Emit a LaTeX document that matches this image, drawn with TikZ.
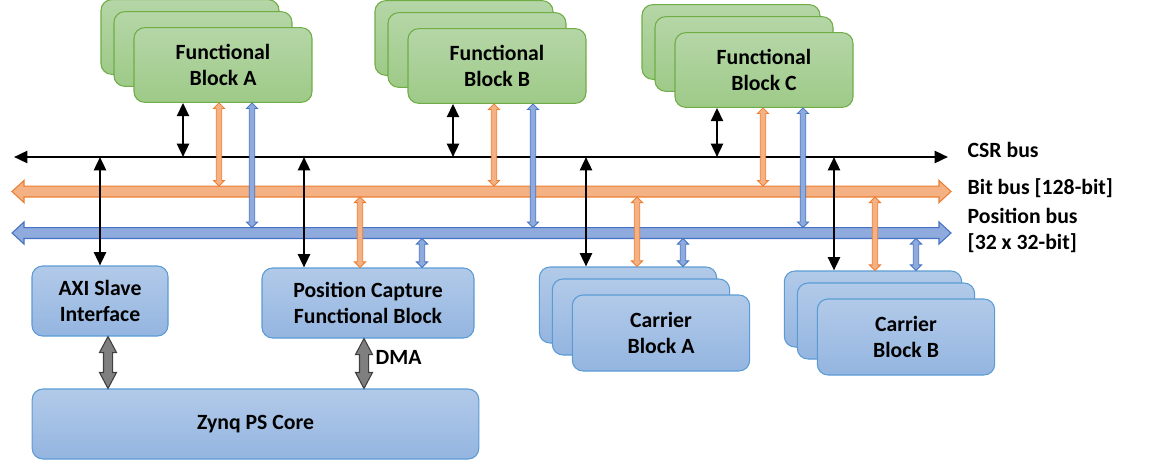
\documentclass[tikz,border=0pt]{standalone}
\usepackage{fontspec}
\setmainfont{Carlito}
\usetikzlibrary{arrows.meta,calc}

\definecolor{fbTop}{HTML}{B5D6A7}
\definecolor{fbBot}{HTML}{9ECA88}
\definecolor{fbLine}{HTML}{70AD47}
\definecolor{cbTop}{HTML}{B2CAE9}
\definecolor{cbBot}{HTML}{94B5E0}
\definecolor{cbLine}{HTML}{5B9BD5}
\definecolor{bitFill}{HTML}{F4B183}
\definecolor{bitLine}{HTML}{ED7D31}
\definecolor{posFill}{HTML}{8FAADC}
\definecolor{posLine}{HTML}{4472C4}
\definecolor{psFill}{HTML}{7F7F7F}
\definecolor{psLine}{HTML}{404040}

\tikzset{
  lbl/.style={font=\fontsize{16.3}{19.5}\selectfont\bfseries, align=center},
  fblock/.style={lbl, draw=fbLine, top color=fbTop, bottom color=fbBot, line width=0.8pt,
    rounded corners=8pt, minimum width=133.5pt, minimum height=56pt},
  cblock/.style={lbl, draw=cbLine, top color=cbTop, bottom color=cbBot, line width=0.8pt,
    rounded corners=8pt},
  % outlined double arrow: #1 half shaft, #2 half head, #3 head length
  fat/.style n args={3}{to path={
    let \p1=(\tikztostart), \p2=(\tikztotarget),
        \p3=($(\x1,\y1)!#3!(\x2,\y2)$), \p4=($(\x2,\y2)!#3!(\x1,\y1)$) in
    (\x1,\y1) -- ($(\x3,\y3)!#2!90:(\x2,\y2)$) -- ($(\x3,\y3)!#1!90:(\x2,\y2)$)
    -- ($(\x4,\y4)!#1!-90:(\x1,\y1)$) -- ($(\x4,\y4)!#2!-90:(\x1,\y1)$) -- (\x2,\y2)
    -- ($(\x4,\y4)!#2!90:(\x1,\y1)$) -- ($(\x4,\y4)!#1!90:(\x1,\y1)$)
    -- ($(\x3,\y3)!#1!-90:(\x2,\y2)$) -- ($(\x3,\y3)!#2!-90:(\x2,\y2)$) -- cycle}},
  csr/.style={line width=1.8pt, {Triangle[width=9pt,length=10pt]}-{Triangle[width=9pt,length=10pt]}},
  bitbus/.style={draw=bitLine, fill=bitFill, line width=0.8pt, fat={4.1pt}{8.3pt}{9pt}},
  posbus/.style={draw=posLine, fill=posFill, line width=0.8pt, fat={4.1pt}{8.3pt}{9pt}},
  bittap/.style={draw=bitLine, fill=bitFill, line width=0.6pt, fat={2pt}{4.2pt}{4.2pt}},
  postap/.style={draw=posLine, fill=posFill, line width=0.6pt, fat={2pt}{4.2pt}{4.2pt}},
  psarrow/.style={draw=psLine, fill=psFill, line width=0.8pt, fat={3.4pt}{6.4pt}{12pt}}
}

\begin{document}
\begin{tikzpicture}[x=0.75pt, y=-0.75pt]
\useasboundingbox (0,0) rectangle (1153,460);

% Functional blocks, three deep
\foreach \n/\x/\y/\t in {fa/223/65/A, fb/497/66/B, fc/764/70/C}{
  \node[fblock] (\n3) at (\x-33,\y-28) {};
  \node[fblock] (\n2) at (\x-20,\y-16) {};
  \node[fblock] (\n) at (\x,\y) {Functional\\Block \t};
}

% Carrier blocks
\foreach \n/\x/\y/\t in {ca/661/333/A, cb/906/337/B}{
  \node[cblock, minimum width=133pt, minimum height=57pt] (\n3) at (\x-33,\y-28) {};
  \node[cblock, minimum width=133pt, minimum height=57pt] (\n2) at (\x-20,\y-16) {};
  \node[cblock, minimum width=133pt, minimum height=57pt] (\n) at (\x,\y) {Carrier\\Block \t};
}

% PS side
\node[cblock, minimum width=102pt, minimum height=52.5pt] (axi) at (100,301) {AXI Slave\\Interface};
\node[cblock, minimum width=159pt, minimum height=52.5pt] (pcap) at (368,303) {Position Capture\\Functional Block};
\node[cblock, minimum width=335pt, minimum height=52.5pt] (zynq) at (255.5,424) {Zynq PS Core};

% Bus ends
\coordinate (csrL) at (14,157);
\coordinate (csrR) at (948,157);
\coordinate (bitL) at (12,191.5);
\coordinate (bitR) at (951,191.5);
\coordinate (posL) at (12,233);
\coordinate (posR) at (951,233);
% bus edges where the taps land
\coordinate (bitT) at (0,186);
\coordinate (bitB) at (0,197);
\coordinate (posT) at (0,227.5);
\coordinate (posB) at (0,238.5);

\draw[csr] (csrL) -- (csrR);
\draw[bitbus] (bitL) to (bitR);
\draw[posbus] (posL) to (posR);

\node[lbl, anchor=west] (csrlbl) at (963,150) {CSR bus};
\node[lbl, anchor=west] (bitlbl) at (963,188) {Bit bus [128-bit]};
\node[lbl, anchor=west, align=left] (poslbl) at (963,230) {Position bus\\{}[32 x 32-bit]};

% Taps from the functional blocks
\foreach \n/\a/\b/\c in {fa/183/219/252, fb/453/494/533, fc/717/763/803}{
  \draw[csr] (\n.south -| \a,0) -- (csrL -| \a,0);
  \draw[bittap] (\n.south -| \b,0) to (bitT -| \b,0);
  \draw[postap] (\n.south -| \c,0) to (posT -| \c,0);
}

% Taps down to the lower blocks
\draw[csr] (csrL -| 100,0) -- (axi.north -| 100,0);
\draw[csr] (csrL -| 304,0) -- (pcap.north -| 304,0);
\draw[bittap] (bitB -| 360,0) to (pcap.north -| 360,0);
\draw[postap] (posB -| 422,0) to (pcap.north -| 422,0);
\draw[csr] (csrL -| 586,0) -- (ca3.north -| 586,0);
\draw[bittap] (bitB -| 637,0) to (ca3.north -| 637,0);
\draw[postap] (posB -| 683,0) to (ca3.north -| 683,0);
\draw[csr] (csrL -| 834,0) -- (cb3.north -| 834,0);
\draw[bittap] (bitB -| 875,0) to (cb3.north -| 875,0);
\draw[postap] (posB -| 916,0) to (cb3.north -| 916,0);

% Links to the PS core
\draw[psarrow] (axi.south -| 108,0) to (zynq.north -| 108,0);
\draw[psarrow] (pcap.south -| 364,0) to (zynq.north -| 364,0);
\node[lbl, anchor=west] (dma) at (371,357) {DMA};

\end{tikzpicture}
\end{document}
